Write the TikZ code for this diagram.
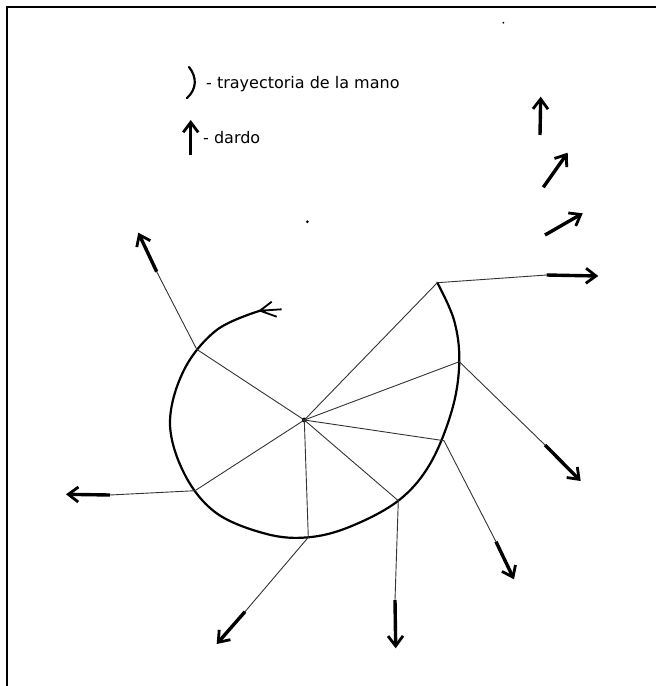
\documentclass[tikz,border=0pt]{standalone}
\usepackage{fontspec}
\setmainfont{DejaVu Sans}
\usetikzlibrary{arrows.meta}

\newcommand{\leyenda}{\fontsize{16}{18}\selectfont}

\tikzset{
  radio/.style={draw=black!80, line width=0.9pt},
  mano/.style={draw, line width=2.2pt, line cap=round},
  dardo/.style={line width=3.4pt, -{Straight Barb[length=10pt,width=15pt,line width=2.8pt]}},
  texto/.style={anchor=base west, inner sep=0pt, font=\leyenda}
}

\begin{document}
\begin{tikzpicture}[x=1pt,y=-1pt]
    \useasboundingbox (0,0) rectangle (656,686);
    \draw[line width=2.5pt] (7,686) -- (7,7) -- (656,7);
    % leyenda
    \draw[mano] (189,67) .. controls (197,77) and (197,89) .. (187,98);
    \node[texto] (tray) at (206,88) {- trayectoria de la mano};
    \coordinate (l0) at (190.7,155);
    \coordinate (l1) at (190.7,120);
    \draw[dardo] (l0) -- (l1);
    \node[texto] (dardo) at (203,143.3) {- dardo};
    % trayectoria de la mano
    \coordinate (O) at (304.3,420);
    \coordinate (A) at (260,310.7);
    \path[mano] plot[smooth, tension=0.6] coordinates {(A) (216.7,330) (184,370) (170,423.3) (185,475) (216.7,513.3) (266.7,534) (308.3,537.3) (350,526.7) (398.3,500.7) (430,464) (452,410) (459.3,361.7) (454,320) (437.3,282.7)};
    \draw[line width=1.8pt] (A) -- (271.7,301.7) (A) -- (281.7,309.3) (A) -- (276.7,316.7);
    \fill (O) circle (2.5);
    % dardos soltados
    \foreach \n/\p/\q/\t in {1/{196.7,349.3}/{156.7,271.7}/{138.3,232.7},
                             2/{437.3,282.7}/{546.7,275}/{598.3,276},
                             3/{459.3,361.7}/{545,445}/{580.7,481},
                             4/{444,440.7}/{496,541.7}/{514,579.3},
                             5/{398.3,500.7}/{395,600}/{395.7,648.3},
                             6/{308.3,537.3}/{245,611.7}/{216.7,644},
                             7/{195,490.7}/{110,495}/{66,494.3}}{
        \coordinate (p\n) at (\p);
        \coordinate (s\n) at (\q);
        \coordinate (t\n) at (\t);
        \draw[radio] (O) -- (p\n) -- (s\n);
        \draw[dardo] (s\n) -- (t\n);
    }
    % dardos en el aire
    \foreach \n/\p/\t in {a/{540,135}/{540.7,96.7}, b/{543.3,187.3}/{567.7,152.7}, c/{545,235}/{582.7,213.3}}{
        \coordinate (u\n) at (\p);
        \coordinate (v\n) at (\t);
        \draw[dardo] (u\n) -- (v\n);
    }
    \fill (307.3,221.7) circle (1.5);
    \fill (503.3,22.7) circle (1);
\end{tikzpicture}
\end{document}
